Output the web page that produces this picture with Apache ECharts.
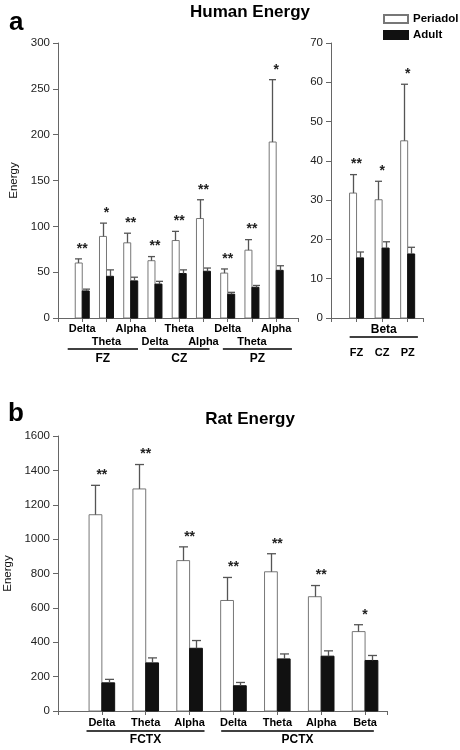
<!DOCTYPE html>
<html><head><meta charset="utf-8">
<script src="https://cdn.jsdelivr.net/npm/echarts@6/dist/echarts.min.js"></script>
<style>html,body{margin:0;padding:0;background:#fff}#c{width:460px;height:750px}</style>
</head><body><div id="c"></div>
<script>
// ---------- Human Energy: FZ / CZ / PZ x Delta / Theta / Alpha ----------
const humanBands = ['Delta','Theta','Alpha','Delta','Theta','Alpha','Delta','Theta','Alpha'];
const humanSites = ['FZ','CZ','PZ'];
const humanSiteSpans = [[-0.6, 2.3], [2.75, 5.25], [5.8, 8.65]];
const humanPeriadol    = [60, 89, 82, 62.5, 84.5, 108.5, 49, 74, 192];
const humanPeriadolErr = [64.5, 103.5, 92.5, 67, 94.5, 129, 53.5, 85.5, 260];
const humanAdult       = [29.5, 45.5, 40.5, 37, 48.5, 51, 26, 33.5, 52];
const humanAdultErr    = [31.5, 52.5, 44.5, 40, 52.5, 54.5, 28, 35.5, 57];
const humanStars       = ['**','*','**','**','**','**','**','**','*'];

// ---------- Human Energy: Beta ----------
const betaSites = ['FZ','CZ','PZ'];
const betaGroup = ['Beta'];
const betaGroupSpans = [[-0.27, 2.4]];
const betaPeriadol    = [31.8, 30.1, 45.1];
const betaPeriadolErr = [36.5, 34.8, 59.5];
const betaAdult       = [15.3, 17.8, 16.3];
const betaAdultErr    = [16.8, 19.4, 18];
const betaStars       = ['**','*','*'];

// ---------- Rat Energy ----------
const ratBands = ['Delta','Theta','Alpha','Delta','Theta','Alpha','Beta'];
const ratRegions = ['FCTX','PCTX'];
const ratRegionSpans = [[-0.35, 2.34], [2.72, 6.2]];
const ratPeriadol    = [1142, 1292, 875, 643, 810, 665, 462];
const ratPeriadolErr = [1313, 1434, 955, 777, 915, 730, 502];
const ratAdult       = [164, 280, 365, 147, 303, 319, 294];
const ratAdultErr    = [184, 309, 410, 166, 332, 350, 323];
const ratStars       = ['**','**','**','**','**','**','*'];

const FONT = 'Liberation Sans, Arial, sans-serif';
const AX = '#666';
const WHITE_STYLE = {color:'#fff', borderColor:'#777', borderWidth:1};
const BLACK_STYLE = {color:'#111', borderColor:'#111', borderWidth:1};

// side: -1 = left half of the pair (Periadol), +1 = right half (Adult)
function barSeries(xi, name, values, bw, side, st) {
  return {type:'custom', name:name, xAxisIndex:xi, yAxisIndex:xi, clip:false, z:2, silent:true,
    itemStyle:st,
    data: values.map((v,i)=>[i, v]),
    encode:{x:0, y:1},
    renderItem:(params, api)=>{
      const top = api.coord([api.value(0), api.value(1)]);
      const base = api.coord([api.value(0), 0]);
      const x0 = side < 0 ? top[0] - bw : top[0];
      return {type:'rect', shape:{x:x0 + (side<0?0.5:0), y:top[1], width:bw - 0.5, height:base[1]-top[1]},
        style:{fill:st.color, stroke:st.borderColor, lineWidth:st.borderWidth}};
    }};
}

function errSeries(xi, pv, pe, av, ae, stars, bw, cap) {
  return {type:'custom', xAxisIndex:xi, yAxisIndex:xi, clip:false, z:3, silent:true,
    data: pv.map((v,i)=>[i, v, pe[i], av[i], ae[i]]),
    encode:{x:0, y:[1,2]},
    renderItem:(params, api)=>{
      const x = api.value(0);
      const children = [];
      [[api.value(1), api.value(2), -bw/2],[api.value(3), api.value(4), bw/2]].forEach(([v,e,dx])=>{
        const a = api.coord([x, v]), b = api.coord([x, e]);
        const cx = Math.round(a[0] + dx) + 0.5;
        children.push({type:'line', shape:{x1:cx,y1:a[1],x2:cx,y2:b[1]}, style:{stroke:'#555', lineWidth:1.3}});
        children.push({type:'line', shape:{x1:cx-cap/2,y1:b[1],x2:cx+cap/2,y2:b[1]}, style:{stroke:'#555', lineWidth:1.3}});
      });
      const top = api.coord([x, Math.max(api.value(2), api.value(4))]);
      children.push({type:'text', x: top[0], y: top[1]-10,
        style:{text: stars[params.dataIndex], align:'center', verticalAlign:'middle',
               font:'bold 14px ' + FONT, fill:'#222'}});
      return {type:'group', children};
    }};
}

function groupSeries(xi, names, spans, lineDy, textDy) {
  return {type:'custom', xAxisIndex:xi, yAxisIndex:xi, clip:false, z:3, silent:true,
    data: names.map((n,i)=>[spans[i][0], 0]),
    encode:{x:0, y:1},
    renderItem:(params, api)=>{
      const sp = spans[params.dataIndex];
      const a = api.coord([sp[0], 0]), b = api.coord([sp[1], 0]);
      const y = a[1];
      return {type:'group', children:[
        {type:'line', shape:{x1:a[0], y1:y+lineDy, x2:b[0], y2:y+lineDy}, style:{stroke:'#000', lineWidth:1.6}},
        {type:'text', x:(a[0]+b[0])/2, y:y+textDy,
         style:{text:names[params.dataIndex], align:'center', verticalAlign:'middle',
                font:'bold 12px ' + FONT, fill:'#000'}}
      ]};
    }};
}

function yAx(gi, max, interval, name, gap) {
  return {type:'value', gridIndex:gi, min:0, max:max, interval:interval,
    name:name, nameLocation:'middle', nameGap:gap, nameTextStyle:{fontSize:11.5, color:'#111', fontFamily:FONT},
    axisLine:{show:true, onZero:false, lineStyle:{color:AX, width:1}},
    axisTick:{show:true, length:5, lineStyle:{color:AX}},
    axisLabel:{fontSize:11.5, color:'#222', margin:8, fontFamily:FONT, formatter:v=>String(v)},
    splitLine:{show:false}};
}

function xAx(gi, min, max, labelFn, margin, lineHeight) {
  return {type:'value', gridIndex:gi, min:min, max:max, interval:1,
    axisLine:{show:true, onZero:false, lineStyle:{color:AX, width:1}},
    axisTick:{show:true, length:4, lineStyle:{color:AX}},
    axisLabel:{formatter:labelFn, fontWeight:'bold', fontSize:11, color:'#000', margin:margin,
               lineHeight:lineHeight, fontFamily:FONT, showMinLabel:true, showMaxLabel:true},
    splitLine:{show:false}};
}

function pick(arr, alt) {
  return v => {
    if (Math.abs(v - Math.round(v)) > 1e-6) return '';
    const i = Math.round(v);
    if (i < 0 || i >= arr.length) return '';
    return (alt && i % 2 === 1) ? '\n' + arr[i] : arr[i];
  };
}

const option = {
  animation:false,
  backgroundColor:'#fff',
  textStyle:{fontFamily:FONT},
  title:[
    {text:'a', left:9, top:10, padding:0, textStyle:{fontSize:26, fontWeight:'bold', color:'#000', fontFamily:FONT}},
    {text:'Human Energy', left:250, textAlign:'center', top:4, padding:0, textStyle:{fontSize:17, fontWeight:'bold', color:'#000', fontFamily:FONT}},
    {text:'b', left:8, top:401, padding:0, textStyle:{fontSize:26, fontWeight:'bold', color:'#000', fontFamily:FONT}},
    {text:'Rat Energy', left:250, textAlign:'center', top:411, padding:0, textStyle:{fontSize:17, fontWeight:'bold', color:'#000', fontFamily:FONT}}
  ],
  legend:{data:['Periadol','Adult'], orient:'vertical', left:383, top:13, padding:0,
    itemWidth:24, itemHeight:8, itemGap:4, icon:'rect',
    textStyle:{fontWeight:'bold', fontSize:11.5, color:'#000', fontFamily:FONT}},
  grid:[
    {left:58, top:43, width:240, height:275, containLabel:false, outerBoundsMode:'none'},
    {left:331, top:43, width:92, height:275, containLabel:false, outerBoundsMode:'none'},
    {left:58, top:436, width:329, height:275, containLabel:false, outerBoundsMode:'none'}
  ],
  xAxis:[
    xAx(0, -1, 8.9, pick(humanBands, true), 4, 13),
    xAx(1, -1, 2.6, pick(betaSites, false), 28, 13),
    xAx(2, -1, 6.5, pick(ratBands, false), 5, 13)
  ],
  yAxis:[
    yAx(0, 300, 50, 'Energy', 37),
    yAx(1, 70, 10, '', 0),
    yAx(2, 1600, 200, 'Energy', 38)
  ],
  series:[
    barSeries(0, 'Periadol', humanPeriadol, 7.5, -1, WHITE_STYLE),
    barSeries(0, 'Adult', humanAdult, 7.5, 1, BLACK_STYLE),
    barSeries(1, 'Periadol', betaPeriadol, 7.5, -1, WHITE_STYLE),
    barSeries(1, 'Adult', betaAdult, 7.5, 1, BLACK_STYLE),
    barSeries(2, 'Periadol', ratPeriadol, 13.3, -1, WHITE_STYLE),
    barSeries(2, 'Adult', ratAdult, 13.3, 1, BLACK_STYLE),
    errSeries(0, humanPeriadol, humanPeriadolErr, humanAdult, humanAdultErr, humanStars, 7.5, 7),
    errSeries(1, betaPeriadol, betaPeriadolErr, betaAdult, betaAdultErr, betaStars, 7.5, 7),
    errSeries(2, ratPeriadol, ratPeriadolErr, ratAdult, ratAdultErr, ratStars, 13.3, 9),
    groupSeries(0, humanSites, humanSiteSpans, 31, 41),
    groupSeries(1, betaGroup, betaGroupSpans, 19, 12),
    groupSeries(2, ratRegions, ratRegionSpans, 20, 29)
  ]
};

const chart = echarts.init(document.getElementById('c'), null, {renderer:'canvas'});
chart.setOption(option);
</script>
</body></html>
